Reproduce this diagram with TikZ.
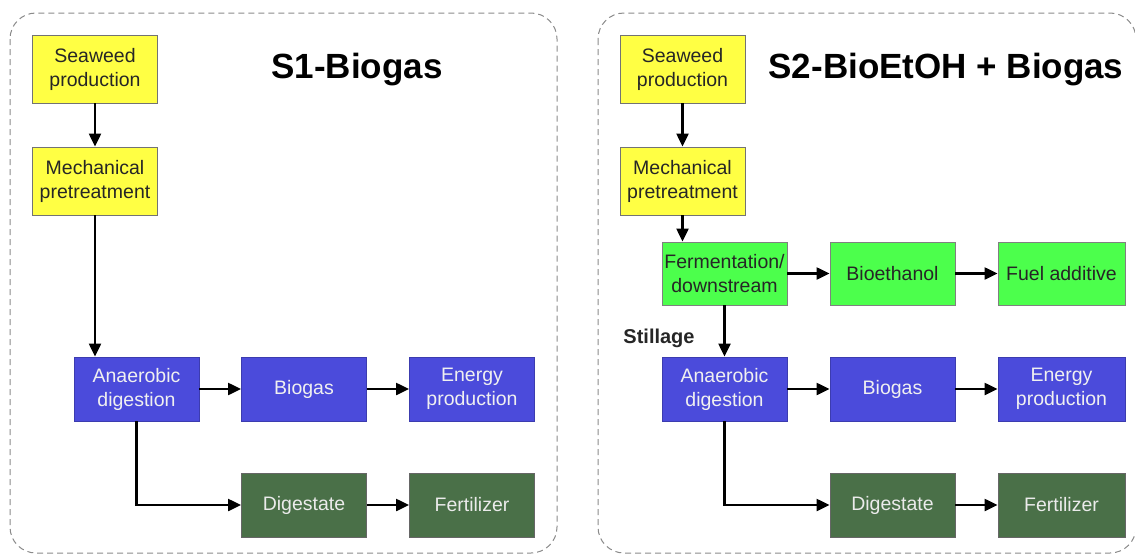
\documentclass[tikz,border=0pt]{standalone}
\usepackage{fontspec}
\setmainfont{Liberation Sans}
\usetikzlibrary{arrows.meta}
\definecolor{ylw}{HTML}{FFFF44}
\definecolor{blu}{HTML}{4B4BDB}
\definecolor{grn}{HTML}{4CFF4C}
\definecolor{dgr}{HTML}{4A7048}
\definecolor{frame}{HTML}{8A8A8A}
\tikzset{
  box/.style={rectangle, draw=black!55, line width=0.9pt, inner sep=0pt, align=center,
    font=\fontsize{19.5}{24}\selectfont, minimum width=125pt, minimum height=64pt},
  ybox/.style={box, fill=ylw, text=black!85, minimum height=68pt},
  bbox/.style={box, fill=blu, text=white!94!black, draw=blu!80!black},
  gbox/.style={box, fill=grn, text=black!85, draw=black!50},
  dbox/.style={box, fill=dgr, text=white!92!black, draw=black!60},
  panel/.style={draw=frame, dashed, dash pattern=on 6pt off 4pt, line width=1pt, rounded corners=26pt},
  flow/.style={line width=2.3pt, -{Triangle[length=13pt,width=12pt]}},
  ttl/.style={font=\fontsize{35}{42}\selectfont\bfseries, anchor=base, inner sep=0pt},
}
\begin{document}
\begin{tikzpicture}[x=1pt,y=-1pt]
\useasboundingbox (0,0) rectangle (1135,554);
\draw[panel] (10,13) rectangle (557,553);
\draw[panel] (598,13) rectangle (1136,553);
% S1
\node[ttl] (t1) at (357,78) {S1-Biogas};
\node[ybox] (sp1) at (95,69) {Seaweed\\production};
\node[ybox] (mp1) at (95,181) {Mechanical\\pretreatment};
\node[bbox] (ad1) at (136.5,389) {Anaerobic\\digestion};
\node[bbox] (bg1) at (304,389) {Biogas};
\node[bbox] (en1) at (472,389) {Energy\\production};
\node[dbox] (dg1) at (304,505) {Digestate};
\node[dbox] (fe1) at (472,505) {Fertilizer};
\draw[flow] (sp1) -- (mp1);
\draw[flow] (mp1.south) -- (mp1.south |- ad1.north);
\draw[flow] (ad1) -- (bg1);
\draw[flow] (bg1) -- (en1);
\draw[flow] (ad1.south) |- (dg1.west);
\draw[flow] (dg1) -- (fe1);
% S2
\node[ttl] (t2) at (946,78) {S2-BioEtOH + Biogas};
\node[ybox] (sp2) at (682.5,69) {Seaweed\\production};
\node[ybox] (mp2) at (682.5,181) {Mechanical\\pretreatment};
\node[gbox, minimum height=63pt] (fm2) at (724.5,273.5) {Fermentation/\\downstream};
\node[gbox, minimum height=63pt] (be2) at (892.5,273.5) {Bioethanol};
\node[gbox, minimum height=63pt, minimum width=127pt] (fu2) at (1061.5,273.5) {Fuel additive};
\node[bbox] (ad2) at (724.5,389) {Anaerobic\\digestion};
\node[bbox] (bg2) at (892.5,389) {Biogas};
\node[bbox, minimum width=127pt] (en2) at (1061.5,389) {Energy\\production};
\node[dbox] (dg2) at (892.5,505) {Digestate};
\node[dbox, minimum width=127pt] (fe2) at (1061.5,505) {Fertilizer};
\node[font=\fontsize{20}{24}\selectfont\bfseries, text=black!85, anchor=base, inner sep=0pt] (st2) at (659,343) {Stillage};
\draw[flow] (sp2) -- (mp2);
\draw[flow] (mp2.south) -- (mp2.south |- fm2.north);
\draw[flow] (fm2) -- (be2);
\draw[flow] (be2) -- (fu2);
\draw[flow] (fm2) -- (ad2);
\draw[flow] (ad2) -- (bg2);
\draw[flow] (bg2) -- (en2);
\draw[flow] (ad2.south) |- (dg2.west);
\draw[flow] (dg2) -- (fe2);
\end{tikzpicture}
\end{document}
